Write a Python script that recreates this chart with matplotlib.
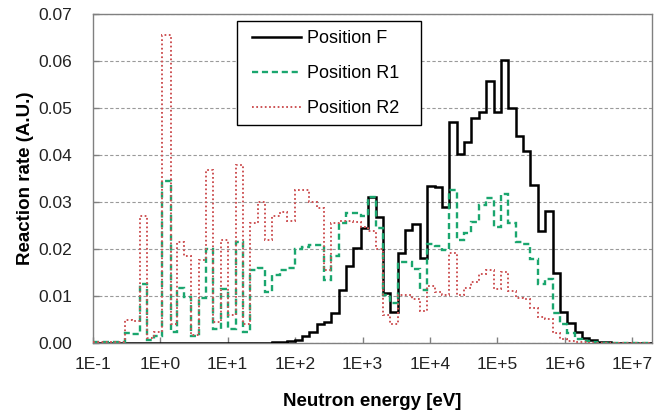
import numpy as np
import matplotlib
matplotlib.use("Agg")
import matplotlib.pyplot as plt
from matplotlib.patches import Rectangle

plt.rcParams['font.family'] = ['Liberation Sans', 'DejaVu Sans']

# bin edges, log10(E / eV)
log_edges = [-1.0, -0.524, -0.415, -0.305, -0.196, -0.087, 0.023, 0.160, 0.242, 0.351, 0.460,
             0.570, 0.679, 0.788, 0.898, 1.007, 1.116, 1.226, 1.335, 1.444, 1.554,
             1.663, 1.773, 1.882, 1.991, 2.101, 2.210, 2.320, 2.429, 2.538, 2.648,
             2.757, 2.866, 2.976, 3.085, 3.194, 3.304, 3.413, 3.523, 3.632, 3.741,
             3.851, 3.960, 4.069, 4.179, 4.288, 4.398, 4.507, 4.617, 4.726, 4.835,
             4.945, 5.054, 5.163, 5.273, 5.382, 5.491, 5.601, 5.710, 5.819, 5.929,
             6.038, 6.147, 6.257, 6.366, 6.475, 6.585, 6.694, 6.804, 6.913, 7.022,
             7.132, 7.241, 7.301]

pos_F = [0,
         0, 0, 0, 0, 0, 0, 0, 0, 0, 0, 0, 0, 0, 0, 0,
         0.0001, 0.0001, 0.0001, 0.0001, 0.0001,
         0.0002, 0.0003, 0.0004, 0.0008, 0.0015,
         0.0024, 0.0042, 0.0045, 0.0064, 0.0113,
         0.0165, 0.0203, 0.0245, 0.0310, 0.0268,
         0.0106, 0.0067, 0.0192, 0.0240, 0.0253,
         0.0182, 0.0335, 0.0332, 0.0290, 0.0470,
         0.0403, 0.0427, 0.0479, 0.0492, 0.0557,
         0.0492, 0.0602, 0.0500, 0.0440, 0.0408,
         0.0337, 0.0238, 0.0282, 0.0149, 0.0067,
         0.0043, 0.0024, 0.0011, 0.0006, 0.0003,
         0.0002, 0.0001, 0.0001, 0, 0,
         0, 0]

pos_R1 = [0.0003,
          0.0022, 0.0020, 0.0127, 0.0008, 0.0015,
          0.0345, 0.0024, 0.0117, 0.0098, 0.0015,
          0.0096, 0.0200, 0.0030, 0.0115, 0.0030,
          0.0215, 0.0024, 0.0155, 0.0160, 0.0110,
          0.0145, 0.0155, 0.0160, 0.0200, 0.0205,
          0.0208, 0.0210, 0.0135, 0.0185, 0.0255,
          0.0278, 0.0277, 0.0270, 0.0310, 0.0245,
          0.0102, 0.0085, 0.0173, 0.0173, 0.0157,
          0.0114, 0.0212, 0.0206, 0.0198, 0.0325,
          0.0219, 0.0234, 0.0258, 0.0293, 0.0308,
          0.0247, 0.0318, 0.0255, 0.0215, 0.0212,
          0.0180, 0.0127, 0.0137, 0.0065, 0.0042,
          0.0021, 0.0010, 0.0005, 0.0003, 0.0001,
          0.0001, 0, 0, 0, 0,
          0, 0]

pos_R2 = [0.0003,
          0.0050, 0.0047, 0.0270, 0.0012, 0.0025,
          0.0655, 0.0040, 0.0215, 0.0185, 0.0018,
          0.0178, 0.0368, 0.0045, 0.0220, 0.0060,
          0.0378, 0.0040, 0.0255, 0.0300, 0.0220,
          0.0270, 0.0280, 0.0260, 0.0325, 0.0325,
          0.0300, 0.0288, 0.0155, 0.0255, 0.0260,
          0.0260, 0.0258, 0.0247, 0.0238, 0.0200,
          0.0060, 0.0042, 0.0102, 0.0102, 0.0095,
          0.0068, 0.0122, 0.0110, 0.0102, 0.0193,
          0.0102, 0.0117, 0.0130, 0.0148, 0.0155,
          0.0116, 0.0152, 0.0112, 0.0097, 0.0094,
          0.0076, 0.0056, 0.0051, 0.0021, 0.0009,
          0.0005, 0.0003, 0.0002, 0.0001, 0,
          0, 0, 0, 0, 0,
          0, 0]

series_labels = ["Position F", "Position R1", "Position R2"]
x_tick_exps = [-1, 0, 1, 2, 3, 4, 5, 6, 7]
x_tick_labels = ["1E-1", "1E+0", "1E+1", "1E+2", "1E+3", "1E+4", "1E+5", "1E+6", "1E+7"]
y_ticks = [0.00, 0.01, 0.02, 0.03, 0.04, 0.05, 0.06, 0.07]

edges = 10.0 ** np.array(log_edges)

W, H = 667, 411
fig = plt.figure(figsize=(W / 100, H / 100), dpi=100)
ax = fig.add_axes([0.1393, 0.1647, 0.8388, 0.8012])

ax.set_xscale('log')
ax.set_xlim(1e-1, 2e7)
ax.set_ylim(0, 0.07)

ax.yaxis.grid(True, color='#9a9a9a', linestyle=(0, (3, 2)), linewidth=0.8)
ax.set_axisbelow(True)

ax.stairs(pos_F, edges, color='black', linewidth=1.8, label=series_labels[0], baseline=None, zorder=3)
ax.stairs(pos_R1, edges, color='#1aa66e', linewidth=1.7, linestyle=(0, (2.6, 1.6)),
          label=series_labels[1], baseline=None, zorder=4)
ax.stairs(pos_R2, edges, color='#cd5355', linewidth=1.4, linestyle=(0, (0.9, 1.3)),
          label=series_labels[2], baseline=None, zorder=5)

ax.set_xticks([10.0 ** e for e in x_tick_exps])
ax.set_xticklabels(x_tick_labels)
ax.xaxis.set_minor_locator(matplotlib.ticker.NullLocator())
ax.set_yticks(y_ticks)
ax.set_yticklabels([f"{v:.2f}" for v in y_ticks])

ax.tick_params(axis='both', direction='in', length=4, width=1, color='#808080',
               labelsize=12.5, labelcolor='#222222')
ax.tick_params(axis='x', pad=10)
ax.tick_params(axis='y', pad=15)

for s in ax.spines.values():
    s.set_color('#808080')
    s.set_linewidth(1.0)

ax.set_xlabel("Neutron energy [eV]", fontsize=13.5, fontweight='bold', labelpad=15)
ax.set_ylabel("Reaction rate (A.U.)", fontsize=13.5, fontweight='bold', labelpad=3)

# legend frame (drawn separately so the padding matches)
frame = Rectangle((237 / W, 1 - 125 / H), 184 / W, 104 / H, transform=fig.transFigure,
                  facecolor='white', edgecolor='black', linewidth=1.0, zorder=9, clip_on=False)
ax.add_patch(frame)

leg = ax.legend(loc='upper left', bbox_to_anchor=(252 / W, 1 - 30 / H),
                bbox_transform=fig.transFigure, fontsize=13, frameon=False,
                handlelength=2.7, handletextpad=0.33, labelspacing=1.0,
                borderpad=0, borderaxespad=0)
leg.set_zorder(10)

fig.savefig("out.png", dpi=100)
